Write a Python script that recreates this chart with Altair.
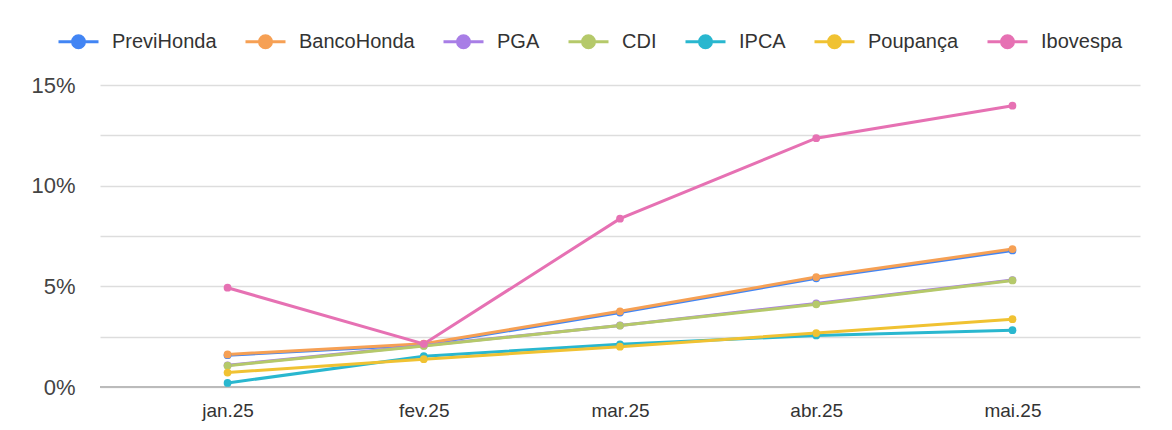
import altair as alt
import pandas as pd

months = ["jan.25", "fev.25", "mar.25", "abr.25", "mai.25"]
series_names = ["PreviHonda", "BancoHonda", "PGA", "CDI", "IPCA", "Poupança", "Ibovespa"]
colors = ["#4285F4", "#F6A054", "#A87EE6", "#B5C96A", "#29B7CF", "#F0C232", "#E671B3"]

previhonda = [1.58, 2.10, 3.70, 5.40, 6.78]
bancohonda = [1.62, 2.15, 3.76, 5.46, 6.85]
pga = [1.08, 2.06, 3.06, 4.15, 5.31]
cdi = [1.06, 2.04, 3.05, 4.11, 5.29]
ipca = [0.20, 1.53, 2.12, 2.56, 2.82]
poupanca = [0.72, 1.38, 2.00, 2.68, 3.37]
ibovespa = [4.93, 2.14, 8.36, 12.36, 13.97]

values = [previhonda, bancohonda, pga, cdi, ipca, poupanca, ibovespa]

rows = []
for si, (name, vals) in enumerate(zip(series_names, values)):
    for m, v in zip(months, vals):
        rows.append({"serie": name, "mes": m, "valor": v, "ordem": si})
df = pd.DataFrame(rows)

FONT = "Liberation Sans"

symbol_path = "M-1,0H1M-0.3,0A0.3,0.3,0,1,1,0.3,0A0.3,0.3,0,1,1,-0.3,0Z"

x_enc = alt.X("mes:N", sort=months, title=None,
              scale=alt.Scale(type="point", padding=0.65),
              axis=alt.Axis(labelAngle=0, labelFontSize=19, labelColor="#333333",
                            labelFont=FONT, ticks=False, domain=False, grid=False,
                            labelPadding=14))
y_enc = alt.Y("valor:Q", title=None,
              scale=alt.Scale(domain=[0, 15], nice=False),
              axis=alt.Axis(values=[0, 2.5, 5, 7.5, 10, 12.5, 15],
                            labelExpr="datum.value % 5 == 0 ? datum.value + '%' : ''",
                            labelFontSize=22, labelColor="#444444", labelFont=FONT,
                            ticks=False, domain=False, gridColor="#DDDDDD",
                            gridWidth=1.5, labelPadding=25))
color_enc = alt.Color("serie:N", sort=series_names,
                      scale=alt.Scale(domain=series_names, range=colors),
                      legend=alt.Legend(orient="none", direction="horizontal",
                                        legendX=-43, legendY=-65, title=None,
                                        symbolType=symbol_path, symbolSize=1600,
                                        symbolStrokeWidth=3, labelFontSize=20,
                                        labelFont=FONT, labelColor="#333333",
                                        columnPadding=22, labelOffset=12))

lines = alt.Chart(df).mark_line(strokeWidth=3).encode(
    x=x_enc, y=y_enc, color=color_enc,
    order=alt.Order("ordem:Q"),
)
points = alt.Chart(df).mark_circle(size=60, opacity=1).encode(
    x=x_enc, y=y_enc, color=color_enc,
    order=alt.Order("ordem:Q"),
)
baseline = alt.Chart(pd.DataFrame({"v": [0]})).mark_rule(color="#BBBBBB", strokeWidth=2).encode(
    y=alt.Y("v:Q", scale=alt.Scale(domain=[0, 15], nice=False))
)

chart = alt.layer(baseline, lines, points).properties(
    width=1040, height=302,
    autosize=alt.AutoSizeParams(type="none"),
    padding={"left": 92, "top": 77, "right": 20, "bottom": 35},
).configure(background="white").configure_view(stroke=None)

chart.save("out.html", embed_options={"renderer": "svg", "actions": False})
